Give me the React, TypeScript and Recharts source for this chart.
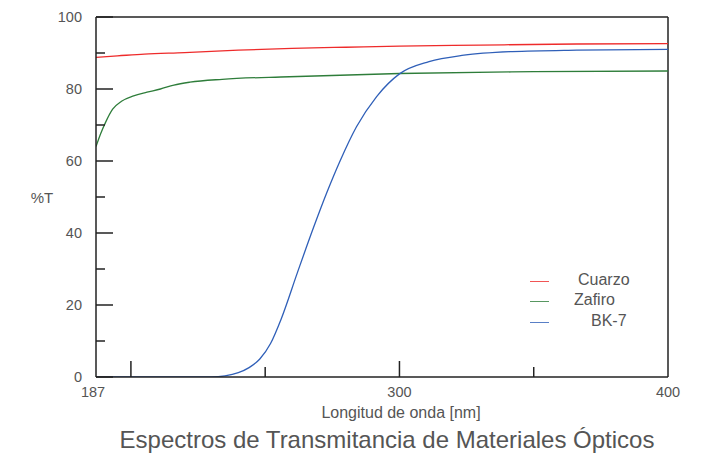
import React from 'react';
import { LineChart, Line, XAxis, YAxis, ReferenceLine } from 'recharts';

// Wavelength (nm) and transmittance (%T) samples for each material
const cuarzoWl = [187, 195, 205, 220, 240, 260, 280, 300, 330, 366, 400];
const cuarzoT = [88.8, 89.2, 89.7, 90.1, 90.8, 91.3, 91.6, 91.9, 92.2, 92.5, 92.6];

const zafiroWl = [187, 188.8, 190.6, 193.2, 196.5, 201, 206, 211, 216, 222, 234, 259, 300, 350, 400];
const zafiroT = [64, 67.7, 70.8, 74.4, 76.6, 78.1, 79.1, 80.0, 81.1, 81.9, 82.7, 83.4, 84.3, 84.8, 85.0];

const bk7Wl = [187, 225, 230, 235, 240, 244, 248, 252, 256, 262, 268, 273, 278, 284, 291.5, 300, 311, 324, 342, 366, 400];
const bk7T = [0, 0, 0, 0.3, 1.2, 2.6, 5.0, 9.3, 16.2, 29, 41.5, 51.3, 60.2, 69.5, 77.9, 84.2, 87.6, 89.4, 90.4, 90.8, 91.0];

const xTicks = [187, 200, 250, 300, 350, 400];
const xLabeled = [187, 300, 400];
const xShort = [250, 350];
const yTicks = [0, 10, 20, 30, 40, 50, 60, 70, 80, 90, 100];
const yLabeled = [0, 20, 40, 60, 80, 100];

const seriesNames = ['Cuarzo', 'Zafiro', 'BK-7'];
const seriesColors = ['#ee2b2b', '#2e7d3a', '#2f5fb8'];

const toPoints = (wl: number[], t: number[]) => wl.map((w, i) => ({ wl: w, t: t[i] }));
const seriesData = [toPoints(cuarzoWl, cuarzoT), toPoints(zafiroWl, zafiroT), toPoints(bk7Wl, bk7T)];

const FONT = '"Liberation Sans", Arial, sans-serif';
const TEXT = '#555';
const AXIS = '#222';

const XTick = (props: any) => {
  const { x, y, payload } = props;
  const v = payload.value;
  const len = xShort.includes(v) ? 10 : 16;
  return (
    <g>
      {v !== 187 && v !== 400 && (
        <line x1={x} x2={x} y1={y} y2={y - len} stroke={AXIS} strokeWidth={1.5} />
      )}
      {xLabeled.includes(v) && (
        <text x={v === 187 ? x - 3 : x} y={y + 20} textAnchor="middle" fill={TEXT} fontSize={14.5} fontFamily={FONT}>
          {v}
        </text>
      )}
    </g>
  );
};

const YTick = (props: any) => {
  const { x, y, payload } = props;
  const v = payload.value;
  const major = yLabeled.includes(v);
  return (
    <g>
      <line x1={x} x2={x + (major ? 17 : 9)} y1={y} y2={y} stroke={AXIS} strokeWidth={1.5} />
      {major && (
        <text x={x - 14} y={y} dy="0.35em" textAnchor="end" fill={TEXT} fontSize={14.5} fontFamily={FONT}>
          {v}
        </text>
      )}
    </g>
  );
};

// Legend layout: row offsets and label offsets inside the legend box
const legendRowY = [0, 20, 41];
const legendTextX = [48, 44, 61];

export default function App() {
  return (
    <div style={{ position: 'absolute', left: 0, top: 0, width: 710, height: 455, background: '#fff' }}>
      <LineChart width={710} height={455} margin={{ top: 17, right: 42, bottom: 48, left: 36 }}>
        <XAxis
          dataKey="wl"
          type="number"
          domain={[187, 400]}
          ticks={xTicks}
          interval={0}
          height={30}
          tickSize={0}
          tickMargin={0}
          tick={<XTick />}
          axisLine={{ stroke: AXIS, strokeWidth: 1.5 }}
          allowDataOverflow
        />
        <YAxis
          type="number"
          domain={[0, 100]}
          ticks={yTicks}
          interval={0}
          width={60}
          tickSize={0}
          tickMargin={0}
          tick={<YTick />}
          axisLine={{ stroke: AXIS, strokeWidth: 1.5 }}
          allowDataOverflow
        />
        <ReferenceLine y={100} stroke={AXIS} strokeWidth={1.5} />
        <ReferenceLine x={400} stroke={AXIS} strokeWidth={1.5} />
        {seriesData.map((d, i) => (
          <Line
            key={seriesNames[i]}
            data={d}
            dataKey="t"
            name={seriesNames[i]}
            type="monotone"
            stroke={seriesColors[i]}
            strokeWidth={1.3}
            dot={false}
            activeDot={false}
            isAnimationActive={false}
          />
        ))}
      </LineChart>

      <div style={{ position: 'absolute', left: 530, top: 271, width: 120, height: 62, fontFamily: FONT, fontSize: 16, color: TEXT }}>
        {seriesNames.map((n, i) => (
          <React.Fragment key={n}>
            <div style={{ position: 'absolute', left: 0, top: legendRowY[i] + 10, width: 19, height: 1, background: seriesColors[i], opacity: 0.8 }} />
            <div style={{ position: 'absolute', left: legendTextX[i], top: legendRowY[i], whiteSpace: 'nowrap' }}>{n}</div>
          </React.Fragment>
        ))}
      </div>

      <div style={{ position: 'absolute', left: 42, top: 197, transform: 'translate(-50%, -50%)', fontFamily: FONT, fontSize: 15, color: TEXT }}>
        %T
      </div>
      <div style={{ position: 'absolute', left: 401, top: 413, transform: 'translate(-50%, -50%)', fontFamily: FONT, fontSize: 16, color: TEXT, whiteSpace: 'nowrap' }}>
        Longitud de onda [nm]
      </div>
      <div style={{ position: 'absolute', left: 387, top: 440, transform: 'translate(-50%, -50%)', fontFamily: FONT, fontSize: 24, color: TEXT, whiteSpace: 'nowrap' }}>
        Espectros de Transmitancia de Materiales Ópticos
      </div>
    </div>
  );
}
